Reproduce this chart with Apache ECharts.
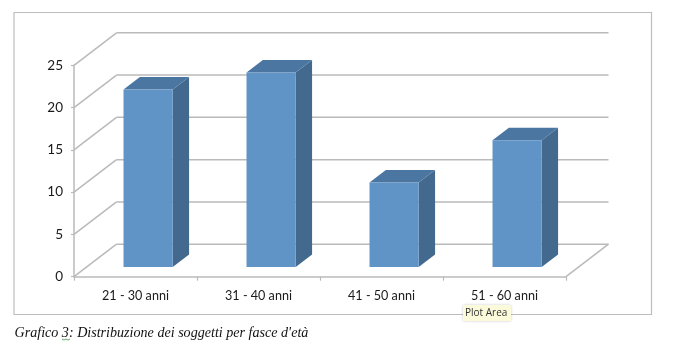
<!DOCTYPE html>
<html><head><meta charset="utf-8">
<style>html,body{margin:0;padding:0;background:#fff}#c{width:680px;height:359px}</style>
<script src="https://cdn.jsdelivr.net/npm/echarts@6/dist/echarts.min.js"></script>
</head><body><div id="c"></div>
<script>
const categories = ['21 - 30 anni','31 - 40 anni','41 - 50 anni','51 - 60 anni'];
const values = [21,23,10,15];
const gridTicks = [0,5,10,15,20,25];
const caption = "Grafico 3: Distribuzione dei soggetti per fasce d'età";
const hoverLabel = 'Plot Area';

const WALL = {dx:42.5, dy:-32.5};
const BAR = {shift:0.297, depth:0.385, width:0.4};
const LINE = '#bababa';

const chart = echarts.init(document.getElementById('c'), null, {renderer:'canvas'});

function wallItem(params, api){
  const v = api.value(0);
  const cs = params.coordSys;
  const y = api.coord([0, v])[1];
  const xl = cs.x, xr = cs.x + cs.width;
  const lineStyle = {stroke:LINE, lineWidth:1.5, fill:null};
  const children = [
    {type:'line', shape:{x1:xl,y1:y,x2:xl+WALL.dx,y2:y+WALL.dy}, style:lineStyle},
    {type:'line', shape:{x1:xl+WALL.dx,y1:y+WALL.dy,x2:xr+WALL.dx,y2:y+WALL.dy}, style:lineStyle}
  ];
  if (v === 0) children.push({type:'line', shape:{x1:xr,y1:y,x2:xr+WALL.dx,y2:y+WALL.dy}, style:lineStyle});
  return {type:'group', children};
}

function barItem(params, api){
  const i = api.value(0), v = api.value(1);
  const base = api.coord([i, 0]);
  const top = api.coord([i, v]);
  const band = api.size([1,0])[0];
  const w = band * BAR.width;
  const sx = WALL.dx * BAR.shift, sy = WALL.dy * BAR.shift;
  const ddx = WALL.dx * BAR.depth, ddy = WALL.dy * BAR.depth;
  const x0 = base[0] + sx - w/2, x1 = x0 + w;
  const yb = base[1] + sy, yt = yb - (base[1] - top[1]);
  const poly = (points, fill) => ({type:'polygon', shape:{points}, style:{fill, stroke:null}});
  return {type:'group', children:[
    poly([[x1,yt],[x1+ddx,yt+ddy],[x1+ddx,yb+ddy],[x1,yb]], '#44698f'),
    poly([[x0,yt],[x0+ddx,yt+ddy],[x1+ddx,yt+ddy],[x1,yt]], '#4b76a2'),
    {type:'rect', shape:{x:x0,y:yt,width:w,height:yb-yt}, style:{fill:'#6094c6', stroke:null}}
  ]};
}

chart.setOption({
  backgroundColor:'#fff',
  animation:false,
  tooltip:{show:false},
  grid:{left:74, right:114, top:65.3, bottom:82.3},
  xAxis:{type:'category', data:categories, boundaryGap:true,
    axisLine:{show:true,lineStyle:{color:LINE,width:1.5}},
    axisTick:{show:true,alignWithLabel:false,length:4,lineStyle:{color:LINE,width:1.2}},
    axisLabel:{color:'#1a1a1a',fontFamily:'Lato',fontSize:12.6,margin:13},
    splitLine:{show:false}},
  yAxis:{type:'value', min:0, max:25, interval:5,
    axisLine:{show:true,lineStyle:{color:LINE,width:1.5}},
    axisTick:{show:true,length:3,lineStyle:{color:LINE,width:1.2}},
    axisLabel:{color:'#1a1a1a',fontFamily:'Lato',fontSize:13.5,margin:11,padding:[9,0,0,0]},
    splitLine:{show:false}},
  series:[
    {type:'custom', name:'walls', silent:true, z:1, clip:false, coordinateSystem:'cartesian2d',
     data:gridTicks.map(v=>[v]), encode:{y:0}, renderItem:wallItem},
    {type:'custom', name:'Soggetti', silent:true, z:3, clip:false, coordinateSystem:'cartesian2d',
     data:values.map((v,i)=>[i,v]), encode:{x:0,y:1}, renderItem:barItem}
  ],
  graphic:[
    {type:'rect', z:0, silent:true, shape:{x:14,y:12.5,width:637.5,height:302}, style:{fill:'transparent',stroke:'#bdbdbd',lineWidth:1.2}},
    {type:'rect', z:10, silent:true, shape:{x:463,y:305,width:48,height:16,r:1}, style:{fill:'#fbfbdc',shadowBlur:3,shadowColor:'rgba(0,0,0,0.2)'}},
    {type:'text', z:11, silent:true, style:{x:465,y:313,text:hoverLabel,fill:'#333',font:'10px "Open Sans"',textVerticalAlign:'middle'}},
    {type:'text', z:11, silent:true, style:{x:14.5,y:333.5,text:caption,fill:'#111',font:'italic 14.1px "Liberation Serif"',textVerticalAlign:'middle'}},
    {type:'polyline', z:12, silent:true, shape:{points:[[62,339],[64,340],[66,339],[68,340],[70,339]]}, style:{stroke:'#6aa56a',lineWidth:1,fill:null}}
  ]
});
</script></body></html>
